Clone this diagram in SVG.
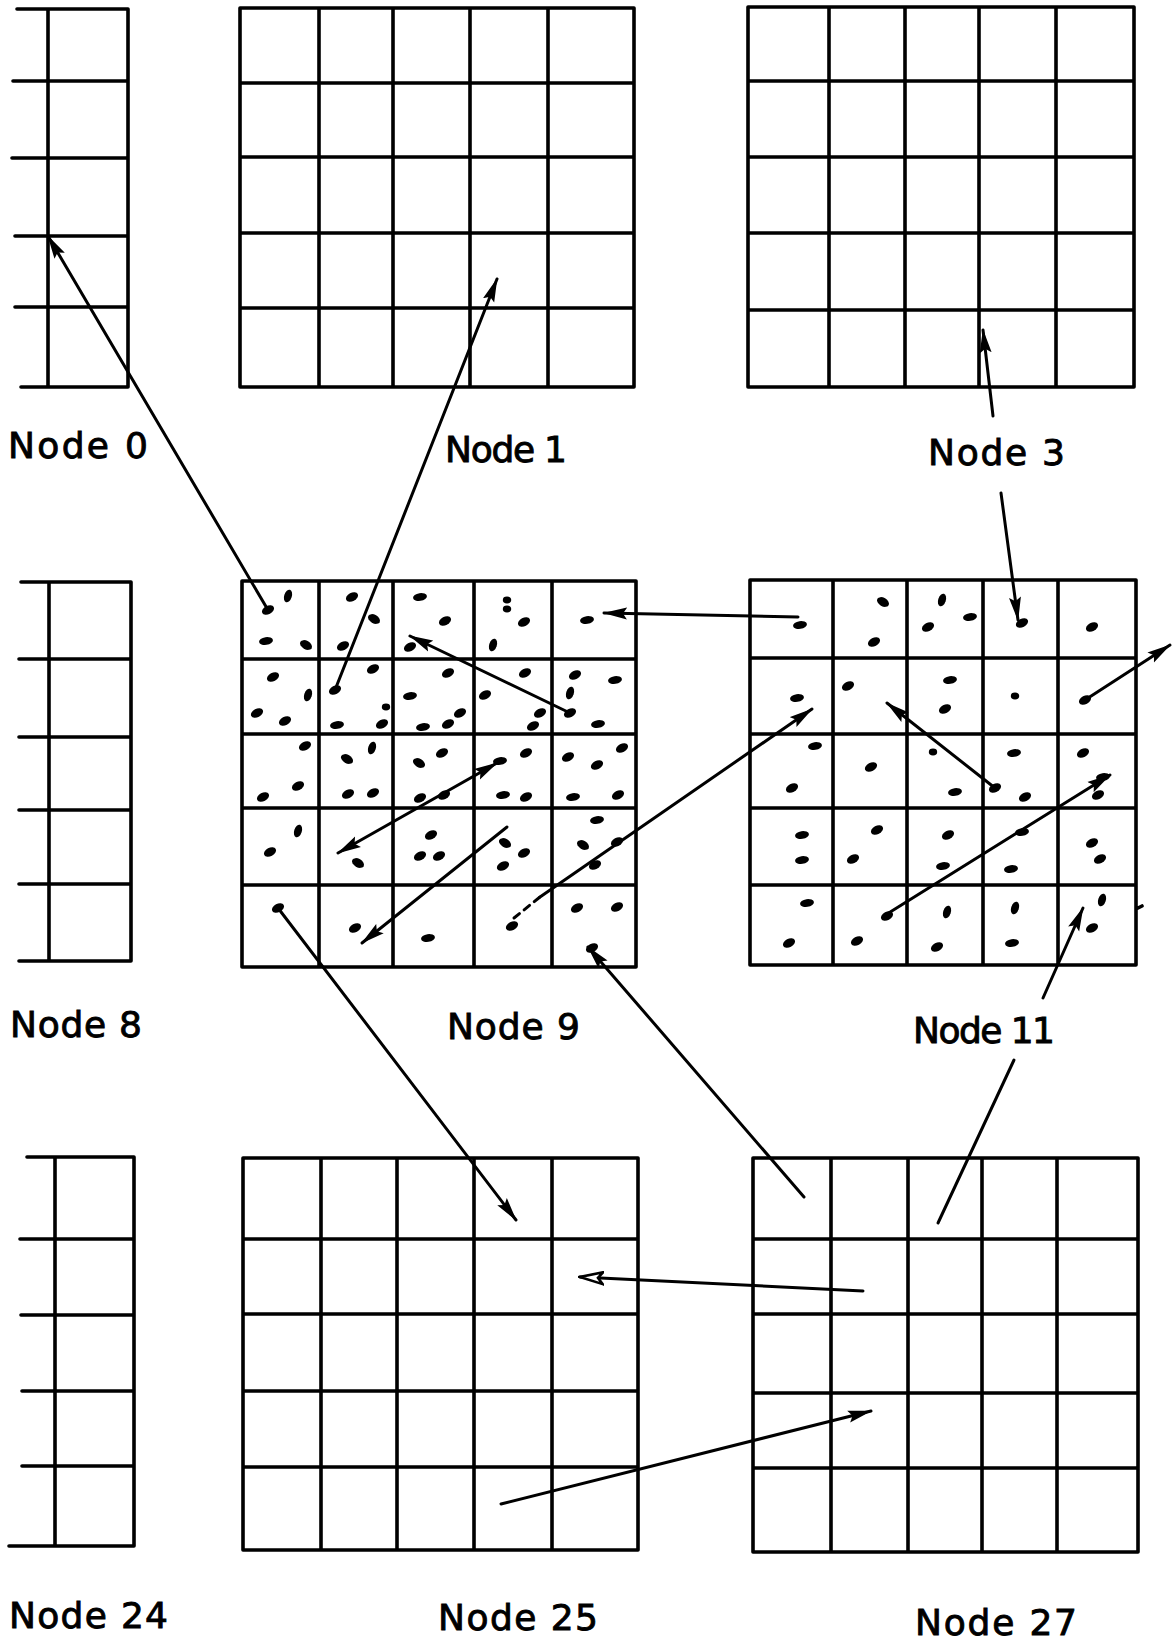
<svg xmlns="http://www.w3.org/2000/svg" xmlns:xlink="http://www.w3.org/1999/xlink" width="1175" height="1644" viewBox="0 0 1175 1644">
<style>
.grid{fill:none;stroke:#000;stroke-width:3.6;stroke-linecap:round;stroke-linejoin:round}
.conn{fill:none;stroke:#000;stroke-width:3;stroke-linecap:round}
.lbl{font-family:"DejaVu Sans","Liberation Sans",sans-serif;font-size:36px;fill:#000;stroke:#000;stroke-width:0.9}
.dots{fill:#000}
</style>
<defs>
<marker id="ah" viewBox="0 0 24 13" markerWidth="24" markerHeight="13" refX="23" refY="6.5" orient="auto-start-reverse" markerUnits="userSpaceOnUse"><path d="M0,0.5 L24,6.5 L0,12.5 L4,6.5 z" fill="#000"/></marker>
<marker id="aho" viewBox="0 0 26 15" markerWidth="26" markerHeight="15" refX="24" refY="7.5" orient="auto" markerUnits="userSpaceOnUse"><path d="M1,1.5 L24,7.5 L1,13.5 L6,7.5 z" fill="#fff" stroke="#000" stroke-width="2.6"/></marker>
<ellipse id="d" cx="0" cy="0" rx="6.5" ry="4.2" transform="rotate(-28)"/>
<ellipse id="dr" cx="0" cy="0" rx="6.5" ry="4.2" transform="rotate(30)"/>
<ellipse id="dv" cx="0" cy="0" rx="6.5" ry="3.8" transform="rotate(-72)"/>
<ellipse id="dh" cx="0" cy="0" rx="7" ry="3.9" transform="rotate(-8)"/>
<ellipse id="ds" cx="0" cy="0" rx="4.2" ry="3.4"/>
</defs>
<rect width="1175" height="1644" fill="#fff"/>

<g id="node0">
<path class="grid" d="M17,9 H128 M13,81 H128 M12,158 H128 M15,236 H128 M15,307 H128 M21,387 H128 M48,9 V387 M128,9 V387"/>
<text class="lbl" x="8" y="458" textLength="140" lengthAdjust="spacing">Node 0</text>
</g>
<g id="node1">
<path class="grid" d="M240,8 V387 M319,8 V387 M393,8 V387 M470,8 V387 M548,8 V387 M634,8 V387 M240,8 H634 M240,83 H634 M240,157 H634 M240,233 H634 M240,308 H634 M240,387 H634"/>
<text class="lbl" x="445" y="462" textLength="122" lengthAdjust="spacing">Node 1</text>
</g>
<g id="node3">
<path class="grid" d="M748,7 V387 M829,7 V387 M905,7 V387 M979,7 V387 M1056,7 V387 M1134,7 V387 M748,7 H1134 M748,81 H1134 M748,157 H1134 M748,233 H1134 M748,310 H1134 M748,387 H1134"/>
<text class="lbl" x="928" y="465" textLength="137" lengthAdjust="spacing">Node 3</text>
</g>
<g id="node8">
<path class="grid" d="M21,582 H131 M19,659 H131 M19,737 H131 M19,810 H131 M19,884 H131 M19,961 H131 M49,582 V961 M131,582 V961"/>
<text class="lbl" x="10" y="1037" textLength="132" lengthAdjust="spacing">Node 8</text>
</g>
<g id="node9">
<path class="grid" d="M242,581 V967 M319,581 V967 M393,581 V967 M474,581 V967 M552,581 V967 M636,581 V967 M242,581 H636 M242,659 H636 M242,734 H636 M242,808 H636 M242,885 H636 M242,967 H636"/>
<g class="dots">
<use href="#d" x="268" y="610"/><use href="#dv" x="288" y="596"/><use href="#dh" x="266" y="641"/><use href="#dr" x="306" y="645"/><use href="#d" x="352" y="597"/><use href="#dr" x="374" y="619"/><use href="#d" x="343" y="646"/><use href="#dh" x="420" y="597"/><use href="#d" x="445" y="621"/><use href="#d" x="410" y="647"/><use href="#ds" x="507" y="600"/><use href="#ds" x="507" y="609"/><use href="#d" x="524" y="622"/><use href="#dv" x="493" y="645"/><use href="#dh" x="587" y="620"/>
<use href="#d" x="273" y="677"/><use href="#dv" x="308" y="695"/><use href="#d" x="257" y="713"/><use href="#d" x="285" y="721"/><use href="#d" x="335" y="690"/><use href="#d" x="373" y="669"/><use href="#ds" x="386" y="707"/><use href="#dh" x="337" y="725"/><use href="#d" x="382" y="724"/><use href="#dh" x="410" y="696"/><use href="#d" x="448" y="673"/><use href="#d" x="460" y="713"/><use href="#dh" x="423" y="727"/><use href="#d" x="448" y="724"/><use href="#d" x="525" y="673"/><use href="#d" x="485" y="695"/><use href="#d" x="540" y="713"/><use href="#d" x="533" y="726"/><use href="#d" x="570" y="713"/><use href="#d" x="575" y="675"/><use href="#dh" x="615" y="680"/><use href="#dv" x="570" y="693"/><use href="#dh" x="598" y="724"/>
<use href="#d" x="305" y="746"/><use href="#d" x="298" y="786"/><use href="#d" x="263" y="797"/><use href="#dr" x="347" y="759"/><use href="#dv" x="372" y="748"/><use href="#d" x="348" y="794"/><use href="#d" x="373" y="793"/><use href="#dr" x="419" y="763"/><use href="#d" x="442" y="753"/><use href="#d" x="420" y="798"/><use href="#d" x="444" y="795"/><use href="#dh" x="500" y="761"/><use href="#d" x="526" y="753"/><use href="#dh" x="503" y="795"/><use href="#d" x="526" y="797"/><use href="#d" x="568" y="757"/><use href="#d" x="597" y="765"/><use href="#d" x="622" y="748"/><use href="#dh" x="573" y="797"/><use href="#d" x="618" y="795"/>
<use href="#dv" x="298" y="831"/><use href="#d" x="270" y="852"/><use href="#dr" x="358" y="863"/><use href="#d" x="431" y="835"/><use href="#d" x="420" y="856"/><use href="#d" x="439" y="856"/><use href="#dr" x="505" y="843"/><use href="#d" x="524" y="853"/><use href="#d" x="503" y="866"/><use href="#dh" x="597" y="820"/><use href="#dr" x="583" y="845"/><use href="#d" x="617" y="842"/><use href="#d" x="595" y="865"/>
<use href="#d" x="278" y="908"/><use href="#d" x="355" y="928"/><use href="#dh" x="428" y="938"/><use href="#d" x="512" y="926"/><use href="#d" x="577" y="908"/><use href="#d" x="617" y="907"/><use href="#d" x="592" y="948"/>
</g>
<text class="lbl" x="447" y="1039" textLength="133" lengthAdjust="spacing">Node 9</text>
</g>
<g id="node11">
<path class="grid" d="M750,580 V965 M833,580 V965 M907,580 V965 M983,580 V965 M1058,580 V965 M1136,580 V965 M750,580 H1136 M750,658 H1136 M750,734 H1136 M750,808 H1136 M750,885 H1136 M750,965 H1136 M1138,908 L1142,906"/>
<g class="dots">
<use href="#dh" x="800" y="625"/><use href="#dr" x="883" y="602"/><use href="#d" x="874" y="642"/><use href="#dv" x="942" y="600"/><use href="#d" x="928" y="627"/><use href="#dh" x="970" y="617"/><use href="#d" x="1022" y="623"/><use href="#d" x="1092" y="627"/>
<use href="#dh" x="797" y="698"/><use href="#d" x="848" y="686"/><use href="#dh" x="950" y="680"/><use href="#d" x="945" y="709"/><use href="#ds" x="1015" y="696"/><use href="#d" x="1085" y="700"/>
<use href="#dh" x="815" y="746"/><use href="#d" x="792" y="788"/><use href="#d" x="871" y="767"/><use href="#ds" x="933" y="752"/><use href="#dh" x="955" y="792"/><use href="#dh" x="1014" y="753"/><use href="#d" x="995" y="788"/><use href="#d" x="1025" y="797"/><use href="#d" x="1083" y="753"/><use href="#dh" x="1103" y="777"/><use href="#d" x="1098" y="795"/>
<use href="#dh" x="802" y="835"/><use href="#dh" x="802" y="860"/><use href="#d" x="877" y="830"/><use href="#d" x="853" y="859"/><use href="#d" x="948" y="835"/><use href="#dh" x="943" y="866"/><use href="#dh" x="1022" y="832"/><use href="#dh" x="1011" y="869"/><use href="#d" x="1092" y="843"/><use href="#d" x="1100" y="859"/>
<use href="#dh" x="807" y="903"/><use href="#d" x="789" y="943"/><use href="#d" x="857" y="941"/><use href="#d" x="887" y="916"/><use href="#dv" x="947" y="912"/><use href="#d" x="937" y="947"/><use href="#dv" x="1015" y="908"/><use href="#dh" x="1012" y="943"/><use href="#dv" x="1102" y="900"/><use href="#d" x="1092" y="928"/>
</g>
<text class="lbl" x="913" y="1043" textLength="142" lengthAdjust="spacing">Node 11</text>
</g>
<g id="node24">
<path class="grid" d="M27,1157 H134 M20,1239 H134 M21,1315 H134 M22,1391 H134 M22,1466 H134 M9,1546 H134 M55,1157 V1546 M134,1157 V1546"/>
<text class="lbl" x="9" y="1628" textLength="159" lengthAdjust="spacing">Node 24</text>
</g>
<g id="node25">
<path class="grid" d="M243,1158 V1550 M321,1158 V1550 M397,1158 V1550 M474,1158 V1550 M552,1158 V1550 M638,1158 V1550 M243,1158 H638 M243,1239 H638 M243,1314 H638 M243,1391 H638 M243,1467 H638 M243,1550 H638"/>
<text class="lbl" x="438" y="1630" textLength="160" lengthAdjust="spacing">Node 25</text>
</g>
<g id="node27">
<path class="grid" d="M753,1158 V1552 M831,1158 V1552 M908,1158 V1552 M982,1158 V1552 M1057,1158 V1552 M1138,1158 V1552 M753,1158 H1138 M753,1239 H1138 M753,1314 H1138 M753,1393 H1138 M753,1468 H1138 M753,1552 H1138"/>
<text class="lbl" x="915" y="1635" textLength="162" lengthAdjust="spacing">Node 27</text>
</g>

<g id="connectors">
<line class="conn" x1="268" y1="610" x2="48" y2="236" marker-end="url(#ah)"/>
<line class="conn" x1="335" y1="690" x2="497" y2="279" marker-end="url(#ah)"/>
<line class="conn" x1="993" y1="416" x2="983" y2="330" marker-end="url(#ah)"/>
<line class="conn" x1="1001" y1="493" x2="1018" y2="620" marker-end="url(#ah)"/>
<line class="conn" x1="798" y1="617" x2="604" y2="613" marker-end="url(#ah)" stroke-width="3.4"/>
<line class="conn" x1="570" y1="713" x2="410" y2="636" marker-end="url(#ah)"/>
<line class="conn" x1="338" y1="853" x2="497" y2="763" marker-start="url(#ah)" marker-end="url(#ah)"/>
<line class="conn" x1="507" y1="827" x2="362" y2="943" marker-end="url(#ah)"/>
<line class="conn" x1="514" y1="918" x2="540" y2="897" stroke-dasharray="7,6"/>
<line class="conn" x1="540" y1="897" x2="812" y2="709" marker-end="url(#ah)"/>
<line class="conn" x1="995" y1="788" x2="887" y2="703" marker-end="url(#ah)" stroke-width="3.4"/>
<line class="conn" x1="1085" y1="700" x2="1170" y2="645" marker-end="url(#ah)"/>
<line class="conn" x1="887" y1="914" x2="1110" y2="775" marker-end="url(#ah)"/>
<line class="conn" x1="938" y1="1223" x2="1014" y2="1060"/>
<line class="conn" x1="1043" y1="998" x2="1083" y2="908" marker-end="url(#ah)"/>
<line class="conn" x1="804" y1="1197" x2="588" y2="947" marker-end="url(#ah)"/>
<line class="conn" x1="278" y1="908" x2="516" y2="1220" marker-end="url(#ah)"/>
<line class="conn" x1="863" y1="1291" x2="580" y2="1277" marker-end="url(#aho)"/>
<line class="conn" x1="501" y1="1504" x2="871" y2="1411" marker-end="url(#ah)"/>
</g>
</svg>
